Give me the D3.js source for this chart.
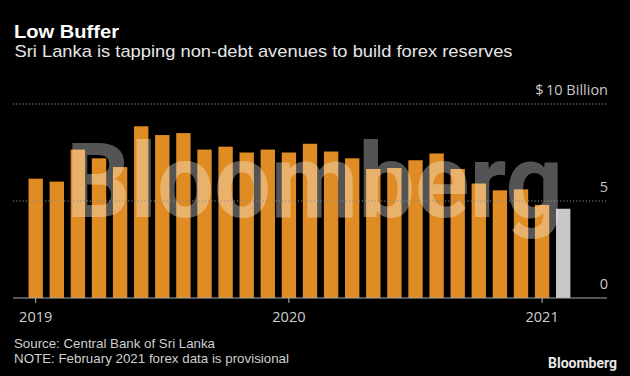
<!DOCTYPE html>
<html>
<head>
<meta charset="utf-8">
<script src="https://cdn.jsdelivr.net/npm/d3@7"></script>
<style>
  html, body { margin: 0; padding: 0; background: #000; }
  svg { display: block; font-family: "Open Sans", "DejaVu Sans", sans-serif; }
</style>
</head>
<body>
<div id="chart"></div>
<script>
// monthly forex reserves, $ billion (Feb 2021 provisional)
const months = ['2019-01','2019-02','2019-03','2019-04','2019-05','2019-06','2019-07','2019-08','2019-09','2019-10','2019-11','2019-12',
                '2020-01','2020-02','2020-03','2020-04','2020-05','2020-06','2020-07','2020-08','2020-09','2020-10','2020-11','2020-12',
                '2021-01','2021-02'];
const reserves = [6.15, 6.0, 7.65, 7.2, 6.75, 8.85, 8.4, 8.5, 7.65, 7.8, 7.5, 7.65,
                  7.5, 7.95, 7.55, 7.2, 6.65, 6.7, 7.1, 7.45, 6.65, 5.9, 5.55, 5.6,
                  4.8, 4.6];
const provisional = ['2021-02'];
const yTicks = [0, 5, 10];
const yearTicks = ['2019-01', '2020-01', '2021-01'];

const width = 630, height = 376;
const margin = {top: 104, right: 23, bottom: 78, left: 13};
const textFont = '"Liberation Sans", Arial, sans-serif';

const svg = d3.select('#chart').append('svg')
    .attr('width', width)
    .attr('height', height);

svg.append('rect').attr('width', width).attr('height', height).attr('fill', '#000');

let x = d3.scaleBand()
    .domain(months)
    .range([25.15, 25.15 + 21.1 * months.length])
    .paddingInner(0.32)
    .paddingOuter(0.16);

let y = d3.scaleLinear()
    .domain([0, 10])
    .range([height - margin.bottom, margin.top]);

// titles
svg.append('text')
    .attr('x', 14).attr('y', 37.7)
    .attr('fill', '#fff')
    .attr('font-family', textFont)
    .attr('font-size', 17.5).attr('font-weight', 700)
    .attr('textLength', 105).attr('lengthAdjust', 'spacingAndGlyphs')
    .text('Low Buffer');

svg.append('text')
    .attr('x', 14.5).attr('y', 57.3)
    .attr('fill', '#e6e6e6')
    .attr('font-family', textFont)
    .attr('font-size', 17)
    .attr('textLength', 498).attr('lengthAdjust', 'spacingAndGlyphs')
    .text('Sri Lanka is tapping non-debt avenues to build forex reserves');

// bars
svg.append('g').selectAll('rect')
    .data(months)
    .join('rect')
    .attr('x', d => x(d))
    .attr('width', x.bandwidth())
    .attr('y', (d, i) => y(reserves[i]))
    .attr('height', (d, i) => y(0) - y(reserves[i]))
    .attr('fill', d => provisional.includes(d) ? '#c8c8c8' : '#df8c24');

// watermark
svg.append('text')
    .attr('x', 66).attr('y', 217)
    .attr('fill', '#fff').attr('fill-opacity', 0.33)
    .attr('font-family', 'Roboto, "Open Sans", sans-serif')
    .attr('font-size', 104).attr('font-weight', 700)
    .attr('textLength', 497).attr('lengthAdjust', 'spacingAndGlyphs')
    .text('Bloomberg');

// gridlines (dotted) and right-hand labels
svg.append('g').selectAll('line')
    .data(yTicks.filter(d => d > 0))
    .join('line')
    .attr('x1', 13).attr('x2', 607)
    .attr('y1', d => y(d)).attr('y2', d => y(d))
    .attr('stroke', '#8a8a8a')
    .attr('stroke-width', 1)
    .attr('stroke-dasharray', '1.2,2');

svg.append('g').selectAll('text')
    .data(yTicks)
    .join('text')
    .attr('x', 608)
    .attr('y', d => y(d) - 9)
    .attr('text-anchor', 'end')
    .attr('fill', '#c8c8c8')
    .attr('font-size', 14.5)
    .text(d => d === 10 ? '$\u200910 Billion' : d);

// x axis
let xAxis = d3.axisBottom(x)
    .tickValues(yearTicks)
    .tickSize(5)
    .tickPadding(9)
    .tickFormat(d => d.slice(0, 4));

let gx = svg.append('g')
    .attr('transform', 'translate(0,' + y(0) + ')')
    .call(xAxis);
gx.select('.domain').remove();
gx.selectAll('.tick line').attr('stroke', '#bbb');
gx.selectAll('.tick text')
    .attr('fill', '#cfcfcf')
    .attr('font-size', 14.5)
    .attr('font-family', '"Open Sans", sans-serif');

svg.append('line')
    .attr('x1', 13).attr('x2', 607)
    .attr('y1', y(0)).attr('y2', y(0))
    .attr('stroke', '#aaa')
    .attr('stroke-width', 1.2);

// footer
svg.append('text')
    .attr('x', 14).attr('y', 348.3)
    .attr('fill', '#cfcfcf')
    .attr('font-family', textFont).attr('font-size', 12.8)
    .attr('textLength', 201).attr('lengthAdjust', 'spacingAndGlyphs')
    .text('Source: Central Bank of Sri Lanka');

svg.append('text')
    .attr('x', 14).attr('y', 362.7)
    .attr('fill', '#cfcfcf')
    .attr('font-family', textFont).attr('font-size', 12.8)
    .attr('textLength', 275).attr('lengthAdjust', 'spacingAndGlyphs')
    .text('NOTE: February 2021 forex data is provisional');

svg.append('text')
    .attr('x', 548).attr('y', 368)
    .attr('fill', '#e6e6e6')
    .attr('font-family', 'Roboto, sans-serif')
    .attr('font-size', 14.5).attr('font-weight', 700)
    .attr('textLength', 69).attr('lengthAdjust', 'spacingAndGlyphs')
    .text('Bloomberg');
</script>
</body>
</html>
